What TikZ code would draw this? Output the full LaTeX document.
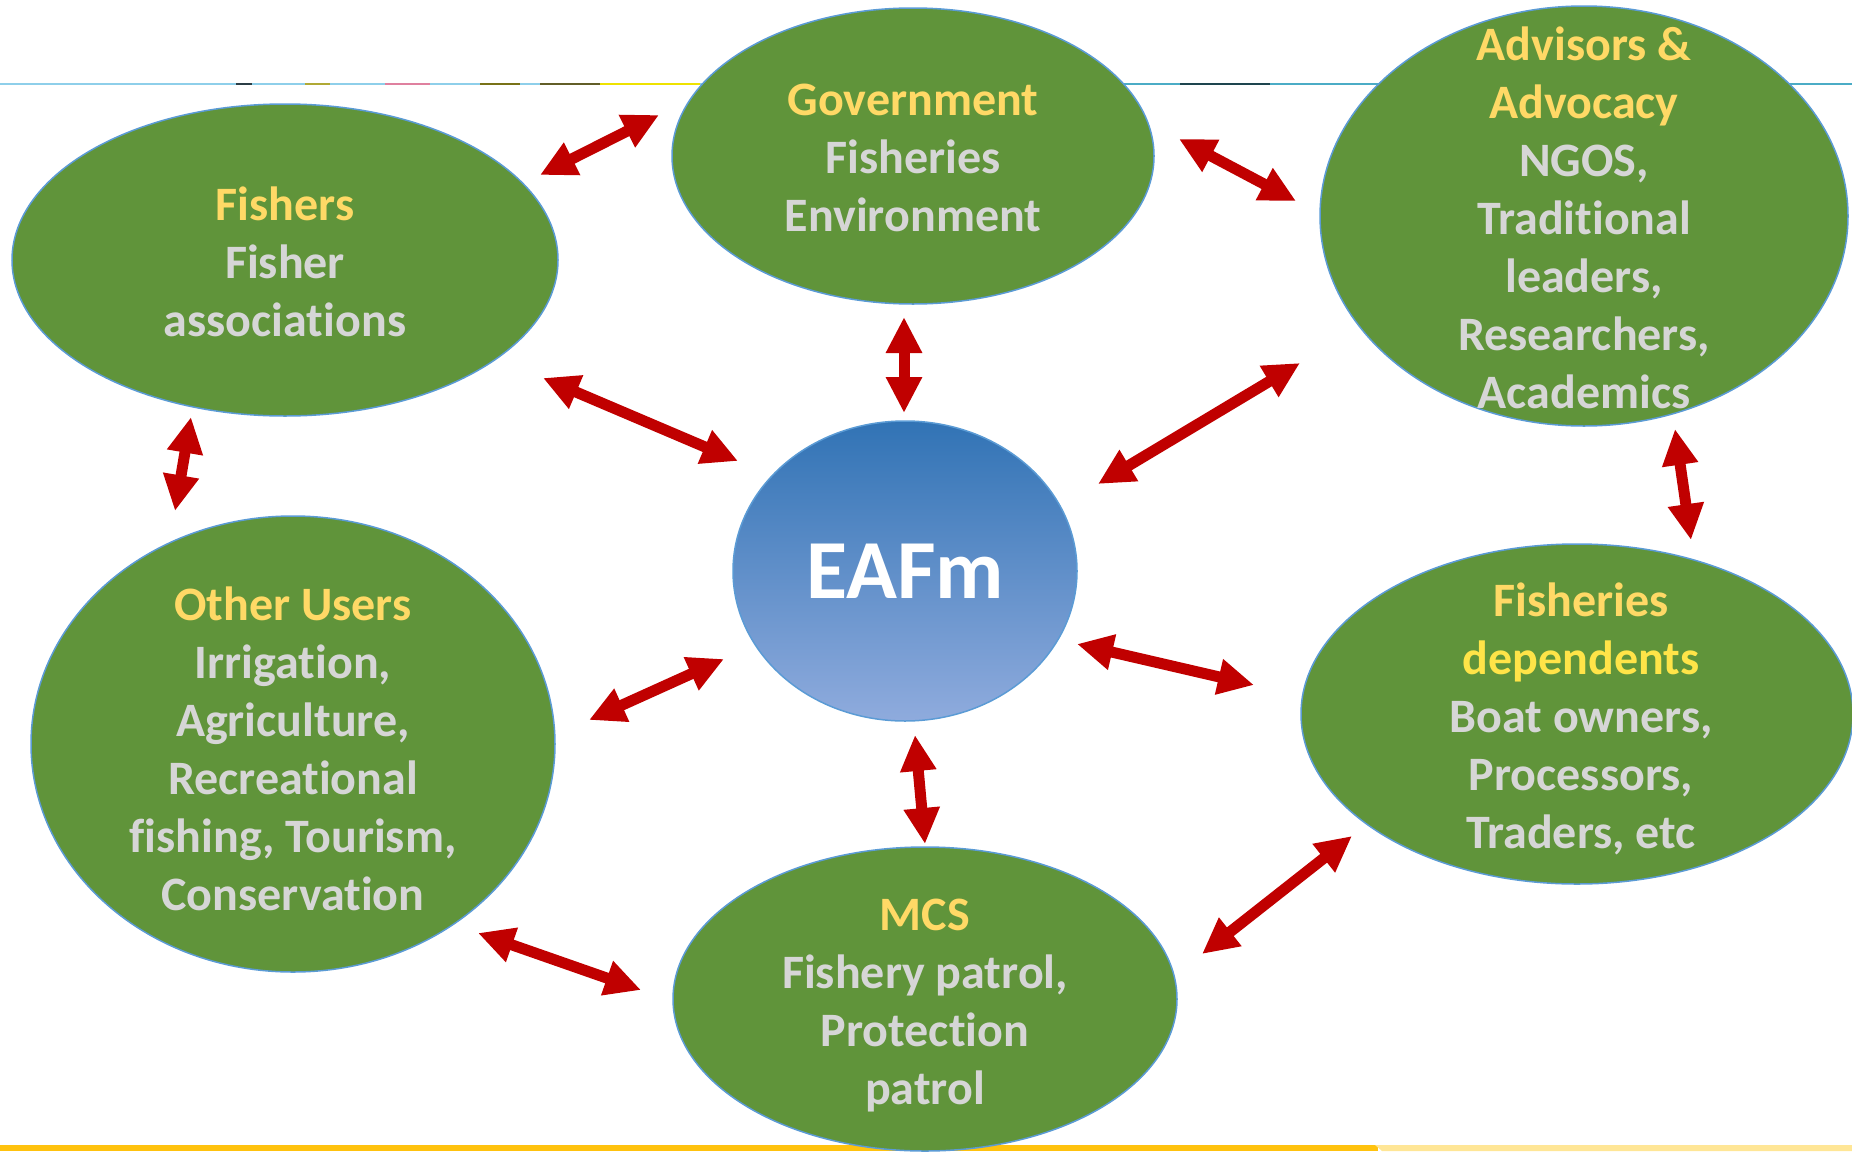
\documentclass[tikz,border=0pt]{standalone}
\usepackage{fontspec}
\setmainfont{Carlito}[Ligatures={NoCommon}]
\usetikzlibrary{shapes.geometric,arrows.meta}
\definecolor{egreen}{RGB}{96,148,58}
\definecolor{eoutline}{RGB}{91,155,213}
\definecolor{ytitle}{RGB}{255,217,102}
\definecolor{ybright}{RGB}{255,228,72}
\definecolor{gtext}{RGB}{214,214,214}
\definecolor{arrred}{RGB}{192,0,0}
\definecolor{btop}{RGB}{49,115,181}
\definecolor{bbot}{RGB}{143,171,221}
\definecolor{lineblue}{RGB}{142,207,234}
\definecolor{lineteal}{RGB}{75,172,198}
\definecolor{barorange}{RGB}{255,194,14}
\definecolor{barlight}{RGB}{255,230,150}
\tikzset{
  stake/.style={ellipse, draw=eoutline, line width=1.5pt, fill=egreen, inner sep=0pt},
  stxt/.style={align=center, text=gtext, inner sep=0pt, yshift=-5pt,
    font=\fontsize{48}{58}\selectfont\bfseries},
  biarrow/.style={draw=arrred, line width=11pt,
    {Triangle[length=36pt,width=34pt]}-{Triangle[length=36pt,width=34pt]}},
}
\begin{document}
\begin{tikzpicture}[x=1pt,y=-1pt]
\useasboundingbox (0,0) rectangle (1852,1151);
% top rule
\draw[lineblue, line width=2pt] (0,84) -- (1100,84);
\draw[lineteal, line width=2pt] (1100,84) -- (1852,84);
\draw[black!70!lineblue, line width=2pt] (236,84) -- (252,84);
\draw[olive!70, line width=2pt] (305,84) -- (330,84);
\draw[purple!50, line width=2pt] (385,84) -- (430,84);
\draw[olive!80!black, line width=2pt] (480,84) -- (520,84);
\draw[olive!60!black, line width=2pt] (540,84) -- (600,84);
\draw[yellow!85!olive, line width=2pt] (600,84) -- (700,84);
\draw[black!60!lineteal, line width=2pt] (1180,84) -- (1270,84);
% bottom bar
\fill[barorange] (0,1145) rectangle (1378,1151);
\fill[barlight] (1375,1145) -- (1852,1145) -- (1852,1151) -- (1382,1151) -- cycle;

% stakeholder ellipses
\node[stake, minimum width=546pt, minimum height=312pt] (fish) at (285,260) {};
\node[stake, minimum width=482pt, minimum height=296pt] (gov) at (913,156) {};
\node[stake, minimum width=528pt, minimum height=420pt] (adv) at (1584,216) {};
\node[stake, minimum width=524pt, minimum height=456pt] (oth) at (293,744) {};
\node[stake, minimum width=552pt, minimum height=340pt] (dep) at (1577,714) {};
\node[stake, minimum width=504pt, minimum height=304pt] (mcs) at (925,999) {};
\node[ellipse, draw=eoutline, line width=1.5pt, top color=btop, bottom color=bbot,
  inner sep=0pt, minimum width=344pt, minimum height=300pt,
  text=white, font=\fontsize{84}{90}\selectfont\bfseries] (eafm) at (905,571) {EAFm};

% texts
\node[stxt, yshift=3pt] (fisht) at (fish.center) {\textcolor{ytitle}{Fishers}\\Fisher\\associations};
\node[stxt, yshift=3pt] (govt) at (gov.center) {\textcolor{ytitle}{Government}\\Fisheries\\Environment};
\node[stxt, yshift=3pt] (advt) at (adv.center) {\textcolor{ytitle}{Advisors \&}\\\textcolor{ytitle}{Advocacy}\\NGOS,\\Traditional\\leaders,\\Researchers,\\Academics};
\node[stxt] (otht) at (oth.center) {\textcolor{ytitle}{Other Users}\\Irrigation,\\Agriculture,\\Recreational\\fishing, Tourism,\\Conservation};
\node[stxt, xshift=4pt] (dept) at (dep.center) {\textcolor{ytitle}{Fisheries}\\\textcolor{ybright}{dependents}\\Boat owners,\\Processors,\\Traders, etc};
\node[stxt, yshift=-2pt] (mcst) at (mcs.center) {\textcolor{ytitle}{MCS}\\Fishery patrol,\\Protection\\patrol};

% arrow end points
\coordinate (a1s) at (540,175);  \coordinate (a1e) at (659,115);
\coordinate (a2s) at (1179,139); \coordinate (a2e) at (1296,201);
\coordinate (a3s) at (543,378);  \coordinate (a3e) at (738,461);
\coordinate (a4s) at (904,317);  \coordinate (a4e) at (904,413);
\coordinate (a5s) at (1300,363); \coordinate (a5e) at (1098,484);
\coordinate (a6s) at (191,417);  \coordinate (a6e) at (175,511);
\coordinate (a7s) at (1675,429); \coordinate (a7e) at (1691,540);
\coordinate (a8s) at (589,720);  \coordinate (a8e) at (724,659);
\coordinate (a9s) at (1077,644); \coordinate (a9e) at (1254,685);
\coordinate (a10s) at (915,735); \coordinate (a10e) at (925,844);
\coordinate (a11s) at (478,933); \coordinate (a11e) at (641,990);
\coordinate (a12s) at (1202,954); \coordinate (a12e) at (1352,836);

\draw[biarrow] (a1s) -- (a1e);
\draw[biarrow] (a2s) -- (a2e);
\draw[biarrow] (a3s) -- (a3e);
\draw[biarrow] (a4s) -- (a4e);
\draw[biarrow] (a5s) -- (a5e);
\draw[biarrow] (a6s) -- (a6e);
\draw[biarrow] (a7s) -- (a7e);
\draw[biarrow] (a8s) -- (a8e);
\draw[biarrow] (a9s) -- (a9e);
\draw[biarrow] (a10s) -- (a10e);
\draw[biarrow] (a11s) -- (a11e);
\draw[biarrow] (a12s) -- (a12e);
\end{tikzpicture}
\end{document}
